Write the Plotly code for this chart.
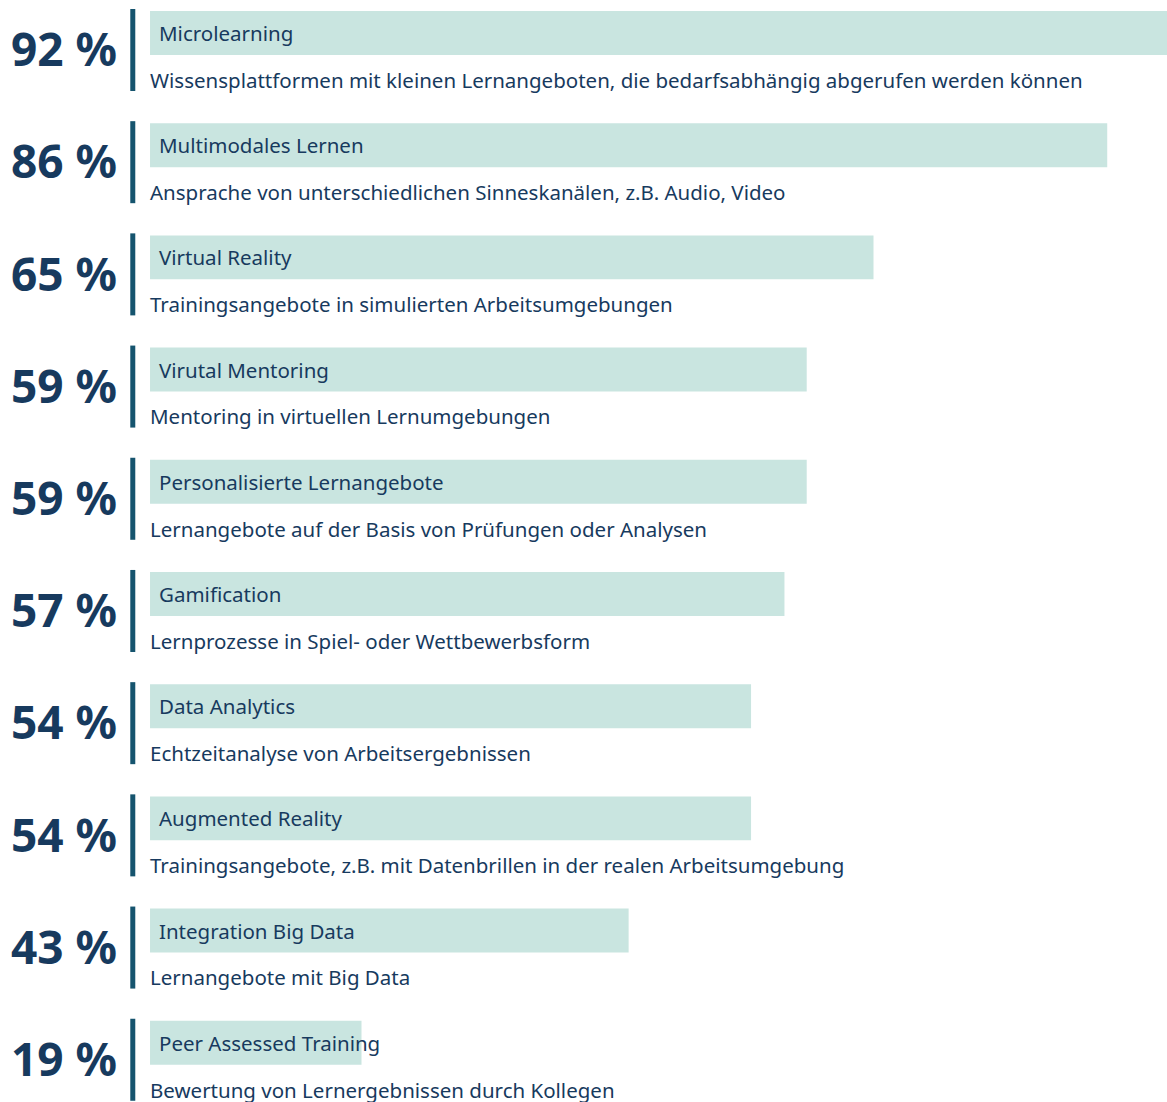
import plotly.graph_objects as go

categories = ["Microlearning", "Multimodales Lernen", "Virtual Reality", "Virutal Mentoring",
              "Personalisierte Lernangebote", "Gamification", "Data Analytics",
              "Augmented Reality", "Integration Big Data", "Peer Assessed Training"]
descriptions = [
    "Wissensplattformen mit kleinen Lernangeboten, die bedarfsabhängig abgerufen werden können",
    "Ansprache von unterschiedlichen Sinneskanälen, z.B. Audio, Video",
    "Trainingsangebote in simulierten Arbeitsumgebungen",
    "Mentoring in virtuellen Lernumgebungen",
    "Lernangebote auf der Basis von Prüfungen oder Analysen",
    "Lernprozesse in Spiel- oder Wettbewerbsform",
    "Echtzeitanalyse von Arbeitsergebnissen",
    "Trainingsangebote, z.B. mit Datenbrillen in der realen Arbeitsumgebung",
    "Lernangebote mit Big Data",
    "Bewertung von Lernergebnissen durch Kollegen",
]
values = [92, 86, 65, 59, 59, 57, 54, 54, 43, 19]

rows = list(range(len(categories)))

BAR = "#c9e5e0"
NAVY = "#173a5e"
LINE = "#15546e"
FONT = "Noto Sans"

fig = go.Figure()
fig.add_trace(go.Bar(
    x=values, y=rows, orientation="h", width=0.392,
    marker=dict(color=BAR, line=dict(width=0)),
    hoverinfo="skip",
))

for i, (c, d, v) in enumerate(zip(categories, descriptions, values)):
    fig.add_annotation(x=0.62, y=i, text=c, xanchor="left", yanchor="middle",
                       showarrow=False, font=dict(family=FONT, size=20.5, color=NAVY))
    fig.add_annotation(x=-0.18, y=i + 0.418, text=d, xanchor="left", yanchor="middle",
                       showarrow=False, font=dict(family=FONT, size=20.5, color=NAVY))
    fig.add_annotation(x=-2.78, y=i + 0.135, text=f"<b>{v} %</b>", xanchor="right", yanchor="middle",
                       showarrow=False, font=dict(family=FONT, size=46, color=NAVY))
    fig.add_shape(type="line", x0=-1.55, x1=-1.55, y0=i - 0.214, y1=i + 0.517,
                  xref="x", yref="y", line=dict(color=LINE, width=5))

fig.update_layout(
    width=1167, height=1102,
    margin=dict(l=0, r=0, t=0, b=0),
    paper_bgcolor="white", plot_bgcolor="white",
    showlegend=False,
    hovermode=False,
    xaxis=dict(range=[-13.48, 91.37], visible=False, fixedrange=True),
    yaxis=dict(range=[9.528, -0.294], visible=False, fixedrange=True),
)
fig.write_html("out.html", config={"displayModeBar": False},
               post_script="document.body.style.margin='0';")
